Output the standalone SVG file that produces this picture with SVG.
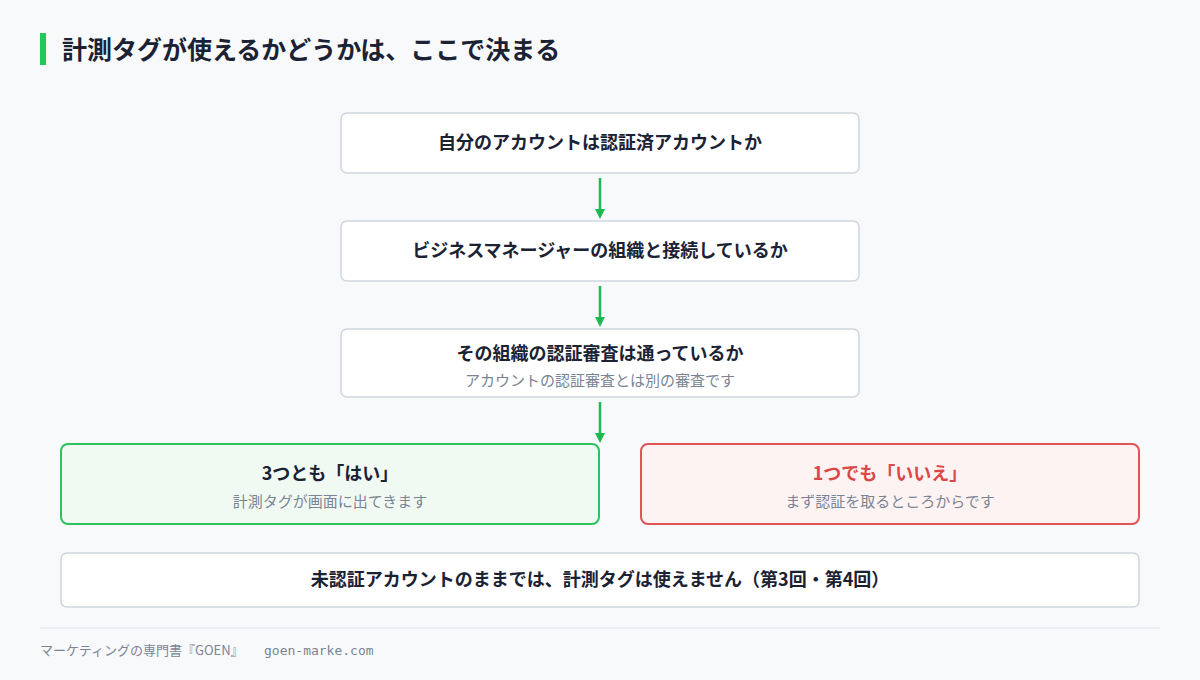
<svg xmlns="http://www.w3.org/2000/svg" width="1200" height="680" viewBox="0 0 1200 680">
<style>
text{font-family:"Noto Sans CJK JP","Noto Sans",sans-serif}
.box{fill:#fff;stroke:#cfd5de;stroke-width:1.5}
.t{font-size:18px;font-weight:700;fill:#1a2233;text-anchor:middle}
.s{font-size:15px;fill:#7a8494;text-anchor:middle}
.c{stroke:#1fb954;stroke-width:2.5;fill:none}
</style>
<defs><marker id="ah" markerWidth="10" markerHeight="10" refX="5" refY="5" orient="auto" markerUnits="userSpaceOnUse"><path d="M0,0L10,5L0,10z" fill="#1fb954"/></marker></defs>
<rect width="1200" height="680" fill="#f8f9fb"/>
<rect x="40" y="33" width="6" height="32" fill="#1fc95a"/>
<text x="62" y="59" style="font-size:25px;font-weight:700;fill:#1a2233">計測タグが使えるかどうかは、ここで決まる</text>
<g id="n1"><rect class="box" x="341" y="113" width="518" height="60" rx="6"/><text class="t" x="600" y="149">自分のアカウントは認証済アカウントか</text></g>
<g id="n2"><rect class="box" x="341" y="221" width="518" height="60" rx="6"/><text class="t" x="600" y="257">ビジネスマネージャーの組織と接続しているか</text></g>
<g id="n3"><rect class="box" x="341" y="329" width="518" height="68" rx="6"/><text class="t" x="600" y="360">その組織の認証審査は通っているか</text><text class="s" x="600" y="386">アカウントの認証審査とは別の審査です</text></g>
<g id="yes"><rect x="61" y="444" width="538" height="80" rx="7" fill="#f0faf3" stroke="#2cc25e" stroke-width="2"/><text class="t" x="330" y="480">3つとも「はい」</text><text class="s" x="330" y="507">計測タグが画面に出てきます</text></g>
<g id="no"><rect x="641" y="444" width="498" height="80" rx="7" fill="#fef3f3" stroke="#e05555" stroke-width="2"/><text class="t" x="890" y="480" style="fill:#dc4646">1つでも「いいえ」</text><text class="s" x="890" y="507">まず認証を取るところからです</text></g>
<g id="note"><rect class="box" x="61" y="553" width="1078" height="54" rx="6"/><text class="t" x="600" y="586">未認証アカウントのままでは、計測タグは使えません（第3回・第4回）</text></g>
<g id="connectors">
<line class="c" x1="600" y1="178" x2="600" y2="214" marker-end="url(#ah)"/>
<line class="c" x1="600" y1="286" x2="600" y2="322" marker-end="url(#ah)"/>
<line class="c" x1="600" y1="402" x2="600" y2="438" marker-end="url(#ah)"/>
</g>
<line x1="40" y1="628" x2="1160" y2="628" stroke="#dde1e7"/>
<text x="40" y="655" style="font-size:13px;fill:#7a8494">マーケティングの専門書『GOEN』<tspan x="264" style="font-family:'DejaVu Sans Mono',monospace">goen-marke.com</tspan></text>
</svg>
